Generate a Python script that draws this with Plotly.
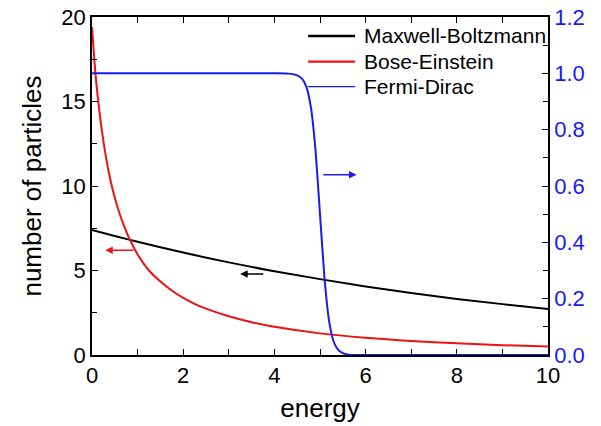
import plotly.graph_objects as go

# Maxwell-Boltzmann (left axis)
mb_energy = [0, 1, 2, 3, 4, 5, 6, 7, 8, 9, 10]
mb_count = [7.4, 6.7, 6.06, 5.48, 4.96, 4.49, 4.06, 3.67, 3.32, 3.01, 2.72]

# Bose-Einstein (left axis)
be_energy = [0, 0.05, 0.1, 0.2, 0.3, 0.4, 0.5, 0.6, 0.7, 0.8, 0.9, 1.0, 1.25, 1.5,
             1.75, 2.0, 2.25, 2.5, 3.0, 3.5, 4.0, 5.0, 6.0, 7.0, 8.0, 9.0, 10.0]
be_count = [19.4, 17.5, 15.95, 13.6, 11.8, 10.4, 9.3, 8.4, 7.65, 7.0, 6.45, 5.95,
            5.0, 4.35, 3.82, 3.38, 3.03, 2.74, 2.29, 1.94, 1.67, 1.28, 1.02, 0.83,
            0.69, 0.58, 0.5]

# Fermi-Dirac (right axis)
fd_energy = [0, 4.0, 4.3, 4.5, 4.6, 4.7, 4.8, 4.9, 5.0, 5.1, 5.2, 5.3, 5.4,
             5.5, 5.6, 5.8, 10]
fd_occ = [1.0, 1.0, 0.999, 0.993, 0.982, 0.953, 0.88, 0.73, 0.5, 0.27, 0.12,
          0.047, 0.018, 0.007, 0.002, 0.0, 0.0]

series_names = ["Maxwell-Boltzmann", "Bose-Einstein", "Fermi-Dirac"]

x_ticks = [0, 2, 4, 6, 8, 10]
y_ticks = [0, 5, 10, 15, 20]
y2_ticks = [0.0, 0.2, 0.4, 0.6, 0.8, 1.0, 1.2]

RED = "#ee1111"
BLUE = "#1a1aee"
FONT = "Liberation Sans, Arial, sans-serif"

fig = go.Figure()
fig.add_trace(go.Scatter(x=mb_energy, y=mb_count, mode="lines", name=series_names[0],
                         line=dict(color="black", width=2, shape="spline")))
fig.add_trace(go.Scatter(x=be_energy, y=be_count, mode="lines", name=series_names[1],
                         line=dict(color=RED, width=2, shape="spline", smoothing=0.8)))
fig.add_trace(go.Scatter(x=fd_energy, y=fd_occ, mode="lines", name=series_names[2], yaxis="y2",
                         line=dict(color=BLUE, width=2, shape="spline", smoothing=0.5)))

# arrows pointing to respective axes
fig.add_annotation(x=0.29, y=6.2, ax=0.94, ay=6.2, xref="x", yref="y", axref="x", ayref="y",
                   text="", showarrow=True, arrowhead=2, arrowsize=1, arrowwidth=1.5, arrowcolor=RED)
fig.add_annotation(x=3.25, y=4.8, ax=3.79, ay=4.8, xref="x", yref="y", axref="x", ayref="y",
                   text="", showarrow=True, arrowhead=2, arrowsize=1, arrowwidth=1.5, arrowcolor="black")
fig.add_annotation(x=5.8, y=0.64, ax=5.04, ay=0.64, xref="x", yref="y2", axref="x", ayref="y2",
                   text="", showarrow=True, arrowhead=2, arrowsize=1, arrowwidth=1.5, arrowcolor=BLUE)

# legend drawn inside the plot (line samples + labels)
leg_colors = ["black", RED, BLUE]
leg_widths = [2.5, 2.2, 1.3]
leg_y = [0.944, 0.868, 0.794]
for name, col, w, yy in zip(series_names, leg_colors, leg_widths, leg_y):
    fig.add_shape(type="line", xref="paper", yref="paper", x0=0.474, x1=0.577, y0=yy, y1=yy,
                  line=dict(color=col, width=w))
    fig.add_annotation(xref="paper", yref="paper", x=0.592, y=yy, text=name, showarrow=False,
                       xanchor="left", yanchor="middle", font=dict(size=21, color="black"))

axis_common = dict(showline=True, linecolor="black", linewidth=1.5, ticks="inside",
                   ticklen=6, tickwidth=1.2, tickcolor="black", showgrid=False, zeroline=False,
                   automargin=False, ticklabeloverflow="allow")

fig.update_layout(
    width=601, height=426,
    margin=dict(l=92, r=53, t=17, b=71),
    paper_bgcolor="white", plot_bgcolor="white",
    font=dict(family=FONT, color="black", size=22),
    showlegend=False,
    xaxis=dict(range=[0, 10], tickvals=x_ticks, mirror="allticks",
               minor=dict(dtick=1, ticks="inside", ticklen=5, tickcolor="black"),
               title=dict(text="energy", font=dict(size=26), standoff=12),
               tickfont=dict(size=22), **axis_common),
    yaxis=dict(range=[0, 20], tickvals=y_ticks,
               minor=dict(dtick=2.5, ticks="inside", ticklen=5, tickcolor="black"),
               title=dict(text="number of particles", font=dict(size=26), standoff=12),
               tickfont=dict(size=22), **axis_common),
    yaxis2=dict(range=[0, 1.2], tickvals=y2_ticks, tickformat=".1f", overlaying="y", side="right",
                minor=dict(dtick=0.1, ticks="inside", ticklen=5, tickcolor="black"),
                tickfont=dict(size=22, color=BLUE), **axis_common),
)

# remove the default page margin so the 601x426 figure fills the window exactly
fig.write_html("out.html", config={"displayModeBar": False},
               post_script="document.body.style.margin='0';")
